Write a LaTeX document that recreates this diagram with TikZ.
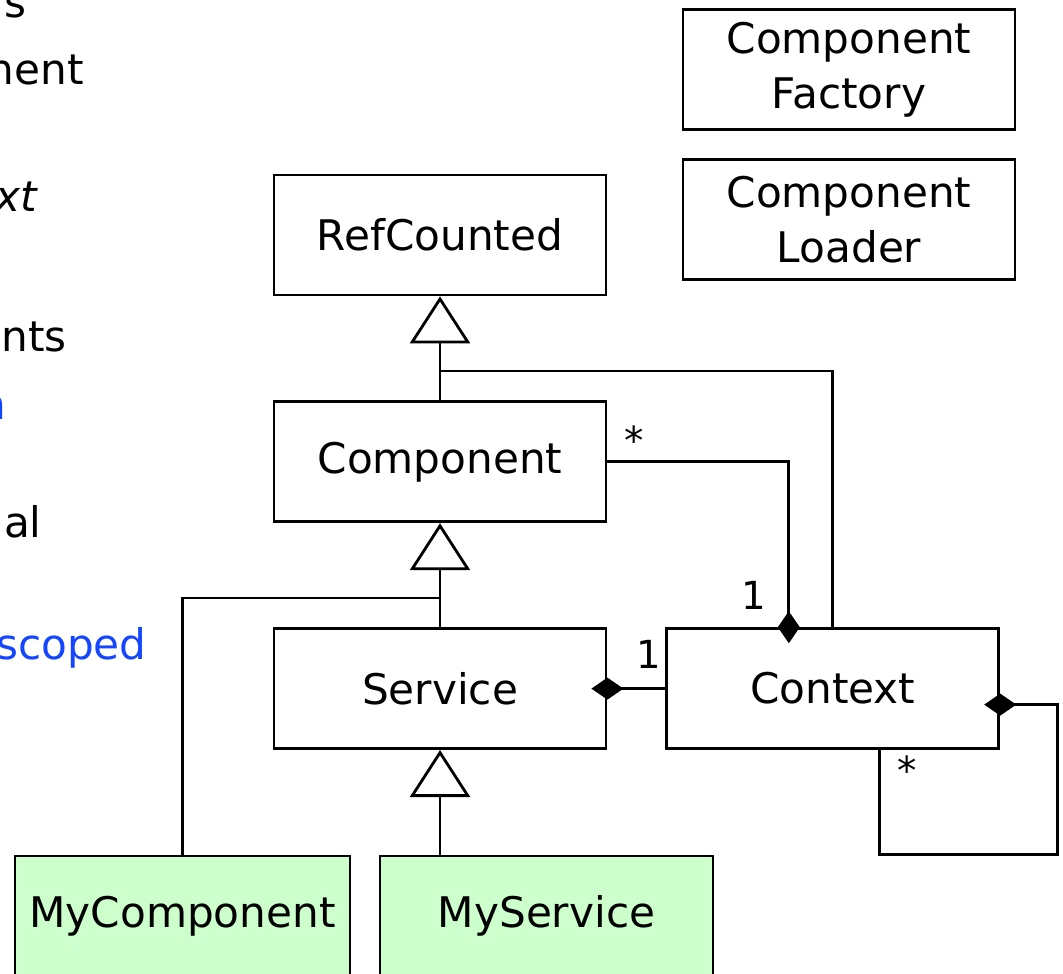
\documentclass[tikz,border=0pt]{standalone}
\usepackage{fontspec}
\setmainfont{DejaVu Sans}
\usepackage[dvipsnames]{xcolor}
\usetikzlibrary{positioning,arrows.meta}

\definecolor{mygreen}{RGB}{204,255,204}
\definecolor{noteblue}{RGB}{20,70,255}

\begin{document}
\begin{tikzpicture}[line width=0.8pt,node distance=1.04cm,
    class node/.style={draw,rectangle,minimum width=3.32cm,minimum height=1.2cm,inner sep=0pt,align=center,font=\fontsize{12}{15.6}\selectfont},
    my node/.style={class node,fill=mygreen},
    mult/.style={inner sep=0pt,anchor=base,font=\fontsize{11}{13}\selectfont},
    side text/.style={inner sep=0pt,anchor=base east,font=\fontsize{12}{15.6}\selectfont},
    inherit/.style={-{Triangle[open,length=0.47cm,width=0.6cm]}},
    compose/.style={{Diamond[length=0.32cm,width=0.22cm]}-}]
    \useasboundingbox (0,0) rectangle (10.63,-9.74);
    \clip (0,0) rectangle (10.63,-9.74);

    % text running in from the left
    \node[side text] (t1) at (0.28,-0.18) {s};
    \node[side text] (t2) at (0.85,-0.85) {nent};
    \node[side text] (t3) at (0.38,-2.12) {\itshape xt};
    \node[side text] (t4) at (0.68,-3.52) {nts};
    \node[side text,text=noteblue] (t5) at (0.08,-4.20) {n};
    \node[side text] (t6) at (0.43,-5.38) {al};
    \node[side text,text=noteblue] (t7) at (1.48,-6.60) {scoped};

    % classes
    \node[class node] (refc) at (4.40,-2.35) {RefCounted};
    \node[class node,below=of refc] (comp) {Component};
    \node[class node,below=of comp] (svc) {Service};
    \node[class node,right=0.58cm of svc] (ctx) {Context};
    \node[class node] (factory) at (8.49,-0.695) {Component\\Factory};
    \node[class node,below=0.27cm of factory] (loader) {Component\\Loader};
    \node[my node,minimum width=3.35cm] (mycomp) at (1.825,-9.16) {MyComponent};
    \node[my node,minimum width=3.33cm] (mysvc) at (5.465,-9.16) {MyService};

    % inheritance
    \coordinate (jref) at (4.40,-3.71);
    \coordinate (jcomp) at (4.40,-5.98);
    \draw[inherit] (comp) -- (refc);
    \draw (ctx.north) |- (jref);
    \draw[inherit] (svc) -- (comp);
    \draw (mycomp.north) |- (jcomp);
    \draw[inherit] (mysvc.north -| svc.south) -- (svc);

    % composition, diamonds sit across the border
    \draw[compose] ([xshift=-4.4mm,yshift=-1.6mm]ctx.north) |- (comp.east);
    \draw[compose] ([xshift=-1.6mm]svc.east) -- (ctx.west);
    \draw[compose] ([xshift=-1.6mm,yshift=-1.6mm]ctx.east) -| ++(0.73,-1.5) -| ([xshift=4.7mm]ctx.south);

    \node[mult] (m1) at ([xshift=2.7mm,yshift=0.7mm]comp.east) {*};
    \node[mult] (m2) at ([xshift=8.8mm,yshift=1.8mm]ctx.north west) {1};
    \node[mult] (m3) at ([xshift=-1.7mm,yshift=2mm]ctx.west) {1};
    \node[mult] (m4) at ([xshift=7.4mm,yshift=-3.4mm]ctx.south) {*};
\end{tikzpicture}
\end{document}
